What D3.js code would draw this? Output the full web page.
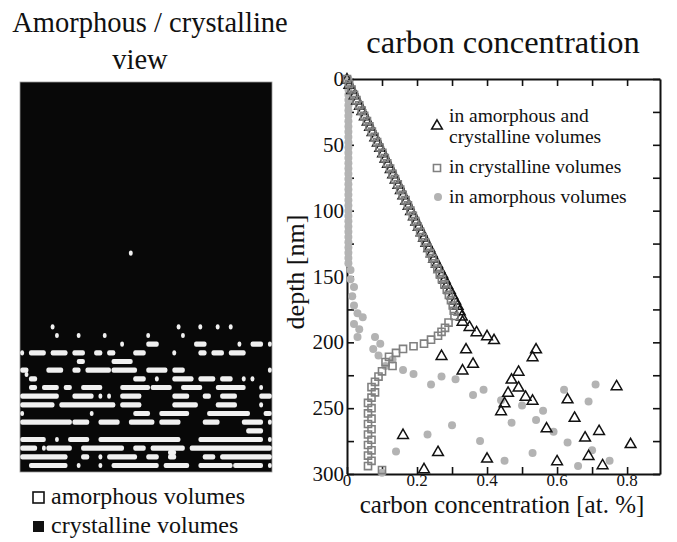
<!DOCTYPE html>
<html>
<head>
<meta charset="utf-8">
<script src="https://cdn.jsdelivr.net/npm/d3@7"></script>
<style>
  body { margin: 0; background: #fff; }
  svg text { font-family: "Liberation Serif", "DejaVu Serif", serif; fill: #111; }
</style>
</head>
<body>
<div id="chart"></div>
<script>
// ---- data ----
var depthTicks = [0, 50, 100, 150, 200, 250, 300];
var depthMinor = [0, 25, 50, 75, 100, 125, 150, 175, 200, 225, 250, 275, 300];
var concTicks = [0, 0.2, 0.4, 0.6, 0.8];
var concMinor = [0, 0.1, 0.2, 0.3, 0.4, 0.5, 0.6, 0.7, 0.8];

// left panel: white (amorphous) cells, [row, firstCol, lastCol] on a 90 x 58 grid
var amorphousCells = [
  [39,25,25],
  [56,7,7],[56,36,36],[56,41,41],[56,45,45],[56,48,48],
  [58,8,8],[58,13,13],[58,19,19],[58,29,29],[58,37,37],
  [60,23,23],[60,29,31],[60,40,42],[60,50,50],[60,53,55],[60,57,57],
  [62,0,0],[62,2,5],[62,7,10],[62,12,14],[62,17,18],[62,20,21],[62,26,28],[62,35,35],[62,41,42],[62,44,46],[62,48,51],
  [64,13,14],[64,21,25],
  [66,0,1],[66,6,9],[66,12,13],[66,15,20],[66,21,26],[66,29,33],[66,35,37],[66,57,57],
  [67,1,1],
  [68,2,3],[68,26,28],[68,31,31],[68,35,39],[68,41,44],[68,46,48],[68,51,51],[68,53,53],
  [70,2,3],[70,5,8],[70,10,11],[70,14,18],[70,23,29],[70,30,34],[70,37,41],[70,45,51],[70,55,55],
  [72,0,8],[72,12,16],[72,18,18],[72,20,20],[72,23,27],[72,35,38],[72,42,43],[72,46,49],[72,55,57],
  [74,0,7],[74,9,21],[74,23,27],[74,35,40],[74,45,49],[74,55,55],
  [76,0,0],[76,16,16],[76,26,29],[76,32,38],[76,43,52],[76,56,57],
  [78,0,11],[78,12,15],[78,18,22],[78,25,30],[78,32,36],[78,42,45],[78,51,55],[78,57,57],
  [80,52,55],
  [82,0,5],[82,8,8],[82,11,15],[82,18,36],[82,41,55],[82,57,57],
  [84,0,3],[84,5,5],[84,6,11],[84,14,23],[84,26,28],[84,30,37],[84,39,57],
  [85,34,35],
  [86,0,10],[86,14,15],[86,18,18],[86,20,26],[86,29,31],[86,34,35],[86,42,44],[86,46,57],
  [88,2,10],[88,13,13],[88,18,18],[88,21,31],[88,33,38],[88,41,48],[88,49,55],[88,57,57]
];

// right panel: [concentration at.%, depth nm]
var lineDepth = [0,4,8,12,16,20,24,28,32,36,40,44,48,52,56,60,64,68,72,76,80,84,88,92,96,
  100,104,108,112,116,120,124,128,132,136,140,144,148,152,156,160,164,168,172,176,180];
var lineBoth = [0.000,0.007,0.015,0.022,0.029,0.037,0.044,0.051,0.059,0.066,0.073,0.081,0.088,
  0.095,0.103,0.110,0.117,0.125,0.132,0.139,0.147,0.154,0.161,0.169,0.176,0.183,0.191,0.198,
  0.205,0.213,0.220,0.227,0.235,0.242,0.249,0.257,0.264,0.272,0.279,0.286,0.294,0.301,0.309,
  0.316,0.322,0.328];
var lineCryst = [0.000,0.006,0.013,0.020,0.027,0.035,0.042,0.049,0.057,0.064,0.071,0.079,0.086,
  0.093,0.101,0.108,0.115,0.123,0.130,0.137,0.145,0.152,0.159,0.167,0.174,0.181,0.188,0.195,
  0.202,0.209,0.216,0.223,0.230,0.237,0.244,0.251,0.258,0.265,0.271,0.278,0.285,0.291,0.297,
  0.302,0.305,0.307];

var bothScatter = [[0.33,184],[0.35,188],[0.37,192],[0.40,195],[0.42,198],[0.34,205],[0.27,210],
  [0.54,205],[0.53,211],[0.36,216],[0.49,222],[0.33,221],[0.47,228],[0.49,234],[0.46,238],
  [0.51,241],[0.45,246],[0.53,244],[0.63,243],[0.77,233],[0.65,257],[0.57,265],[0.68,272],
  [0.72,267],[0.81,277],[0.60,290],[0.73,293],[0.16,270],[0.26,283],[0.22,296],[0.40,288],
  [0.44,252],[0.69,286]];
var crystScatter = [[0.29,185],[0.28,189],[0.27,192],[0.26,195],[0.24,198],[0.22,201],[0.19,203],
  [0.16,205],[0.14,208],[0.12,211],[0.11,215],[0.13,218],[0.10,222],[0.09,226],[0.08,230],
  [0.07,234],[0.08,238],[0.07,242],[0.06,246],[0.07,250],[0.06,254],[0.07,258],[0.06,262],
  [0.07,266],[0.06,270],[0.07,274],[0.06,278],[0.07,282],[0.06,286],[0.07,290],[0.06,294],
  [0.10,297]];
var amorphDepth = [0,4,8,12,16,20,24,28,32,36,40,44,48,52,56,60,64,68,72,76,80,84,88,92,96,
  100,104,108,112,116,120,124,128,132,136,140];
var amorphScatter = [[0.010,145],[0.010,152],[0.020,158],[0.015,165],[0.020,172],[0.030,178],
  [0.045,181],[0.020,186],[0.035,190],[0.030,196],[0.080,196],[0.095,201],[0.075,205],
  [0.090,210],[0.130,213],[0.110,218],[0.160,221],[0.190,224],[0.270,226],[0.240,232],
  [0.310,228],[0.390,236],[0.360,240],[0.440,244],[0.500,248],[0.560,252],[0.620,236],
  [0.710,232],[0.690,245],[0.540,259],[0.470,261],[0.590,268],[0.630,276],[0.700,282],
  [0.750,290],[0.660,294],[0.300,263],[0.230,270],[0.140,283],[0.100,299],[0.380,275],
  [0.450,290],[0.530,284]];

var legendNames = ["in amorphous and", "crystalline volumes", "in crystalline volumes", "in amorphous volumes"];

// ---- drawing ----
var width = 677, height = 542;
var svg = d3.select("#chart").append("svg")
    .attr("width", width)
    .attr("height", height);

// left panel
svg.append("text").attr("x", 150).attr("y", 32).attr("text-anchor", "middle")
    .attr("font-size", "28.5px").text("Amorphous / crystalline");
svg.append("text").attr("x", 140).attr("y", 69).attr("text-anchor", "middle")
    .attr("font-size", "28.5px").text("view");

var gx = d3.scaleBand().domain(d3.range(58)).range([20, 272]);
var gy = d3.scaleBand().domain(d3.range(90)).range([82, 472]);

svg.append("rect")
    .attr("x", 20).attr("y", 82).attr("width", 252).attr("height", 390)
    .attr("fill", "#080808").attr("stroke", "#999").attr("stroke-width", 0.8);

svg.append("g").selectAll("rect").data(amorphousCells).enter().append("rect")
    .attr("x", function(d) { return gx(d[1]) + 0.3; })
    .attr("y", function(d) { return gy(d[0]) - 0.4; })
    .attr("width", function(d) { return gx(d[2]) + gx.bandwidth() - gx(d[1]) - 0.6; })
    .attr("height", gy.bandwidth() + 0.8)
    .attr("rx", 2)
    .attr("fill", "#f0f0f0");

svg.append("rect").attr("x", 33).attr("y", 492).attr("width", 11).attr("height", 11)
    .attr("fill", "white").attr("stroke", "#111").attr("stroke-width", 1.6);
svg.append("text").attr("x", 51).attr("y", 504).attr("font-size", "24px").text("amorphous volumes");
svg.append("rect").attr("x", 33).attr("y", 521).attr("width", 11).attr("height", 11)
    .attr("fill", "#111");
svg.append("text").attr("x", 51).attr("y", 533).attr("font-size", "24px").text("crystalline volumes");

// right panel
var x = d3.scaleLinear().domain([0, 0.894]).range([347, 660]);
var y = d3.scaleLinear().domain([0, 300]).range([79, 474]);

svg.append("text").attr("x", 503).attr("y", 53).attr("text-anchor", "middle")
    .attr("font-size", "32.5px").text("carbon concentration");

function frameAxis(axis, tr) {
  var g = svg.append("g").attr("transform", tr).call(axis);
  g.select(".domain").attr("stroke", "#111").attr("stroke-width", 2);
  g.selectAll(".tick line").attr("stroke", "#111").attr("stroke-width", 1.6);
  return g;
}
frameAxis(d3.axisBottom(x).tickValues(concMinor).tickSize(-7).tickSizeOuter(0).tickFormat(""), "translate(0,474)");
frameAxis(d3.axisTop(x).tickValues(concMinor).tickSize(-7).tickSizeOuter(0).tickFormat(""), "translate(0,79)");
frameAxis(d3.axisLeft(y).tickValues(depthMinor).tickSize(-7).tickSizeOuter(0).tickFormat(""), "translate(347,0)");
frameAxis(d3.axisRight(y).tickValues(depthMinor).tickSize(-7).tickSizeOuter(0).tickFormat(""), "translate(660,0)");

svg.append("g").selectAll("text").data(concTicks).enter().append("text")
    .attr("x", function(d) { return x(d); }).attr("y", 486)
    .attr("text-anchor", "middle").attr("font-size", "17px")
    .text(function(d) { return d === 0 ? "0" : d.toFixed(1); });
svg.append("g").selectAll("text").data(depthTicks).enter().append("text")
    .attr("x", 344).attr("y", function(d) { return y(d) + 7; })
    .attr("text-anchor", "end").attr("font-size", "21px")
    .text(function(d) { return d; });

svg.append("text").attr("transform", "translate(304,272) rotate(-90)")
    .attr("text-anchor", "middle").attr("font-size", "26px").text("depth [nm]");
svg.append("text").attr("x", 502).attr("y", 513).attr("text-anchor", "middle")
    .attr("font-size", "25px").text("carbon concentration [at. %]");

var tri = d3.symbol().type(d3.symbolTriangle).size(50);
var sq = d3.symbol().type(d3.symbolSquare).size(50);

var bothPts = lineDepth.map(function(d, i) { return [lineBoth[i], d]; }).concat(bothScatter);
var crystPts = lineDepth.map(function(d, i) { return [lineCryst[i], d]; }).concat(crystScatter);
var amorphPts = amorphDepth.map(function(d) { return [0.004, d]; }).concat(amorphScatter);

svg.append("g").selectAll("circle").data(amorphPts).enter().append("circle")
    .attr("cx", function(d) { return x(d[0]); })
    .attr("cy", function(d) { return y(d[1]); })
    .attr("r", 4).attr("fill", "#b3b3b3");

svg.append("g").selectAll("path").data(bothPts).enter().append("path")
    .attr("d", tri)
    .attr("transform", function(d) { return "translate(" + x(d[0]) + "," + (y(d[1]) + 0.8) + ")"; })
    .attr("fill", "none").attr("stroke", "#111").attr("stroke-width", 1.5);

svg.append("g").selectAll("path").data(crystPts).enter().append("path")
    .attr("d", sq)
    .attr("transform", function(d) { return "translate(" + x(d[0]) + "," + y(d[1]) + ")"; })
    .attr("fill", "none").attr("stroke", "#808080").attr("stroke-width", 1.6);

// legend
var lg = svg.append("g");
lg.append("path").attr("d", tri).attr("transform", "translate(437,126)")
    .attr("fill", "none").attr("stroke", "#111").attr("stroke-width", 1.5);
lg.append("path").attr("d", sq).attr("transform", "translate(437,168)")
    .attr("fill", "none").attr("stroke", "#808080").attr("stroke-width", 1.6);
lg.append("circle").attr("cx", 438).attr("cy", 197).attr("r", 4).attr("fill", "#b3b3b3");
lg.selectAll("text").data(legendNames).enter().append("text")
    .attr("x", 449)
    .attr("y", function(d, i) { return [122, 143, 173, 203][i]; })
    .attr("font-size", "19.5px")
    .text(function(d) { return d; });
</script>
</body>
</html>
